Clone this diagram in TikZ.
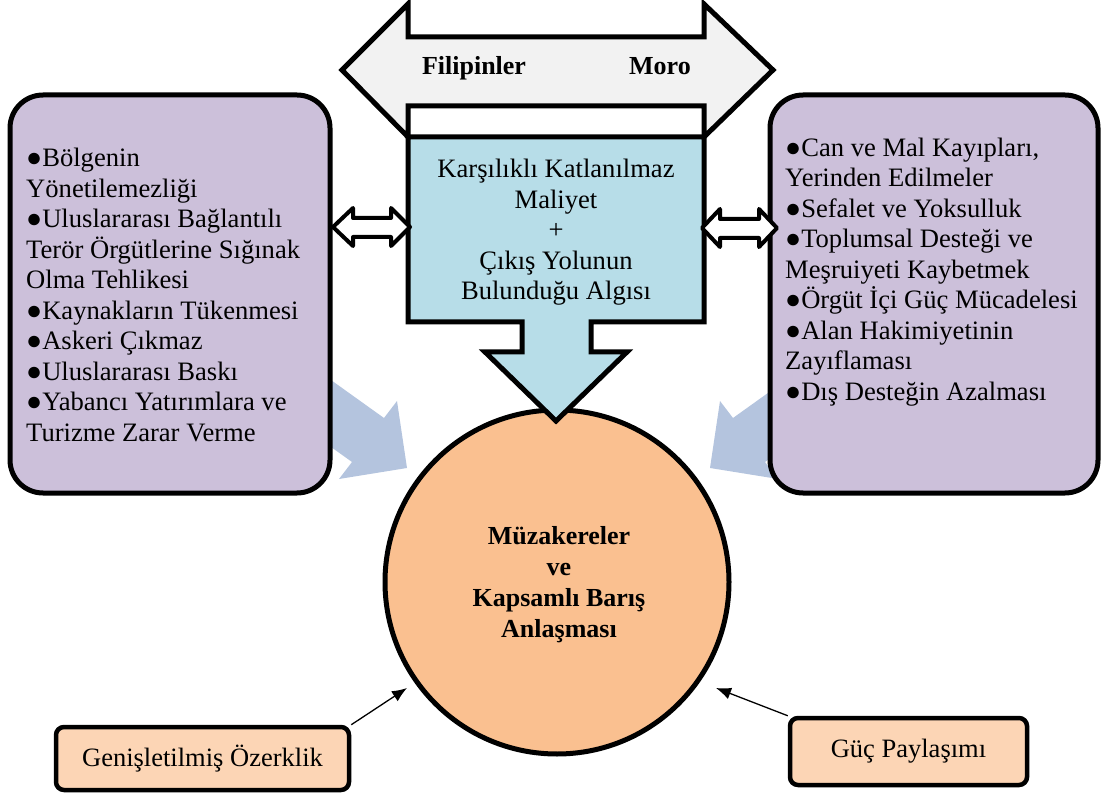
\documentclass[tikz,border=0pt]{standalone}
\usepackage{fontspec}
\setmainfont{Liberation Serif}
\usetikzlibrary{arrows.meta}
\definecolor{greyfill}{HTML}{F2F2F2}
\definecolor{bluefill}{HTML}{B7DDE8}
\definecolor{lavender}{HTML}{CCC0DA}
\definecolor{fadeblue}{HTML}{B4C4DE}
\definecolor{circlefill}{HTML}{FAC090}
\definecolor{peach}{HTML}{FCD5B5}
\begin{document}
\begin{tikzpicture}[x=1pt,y=-1pt,
  shapeline/.style={draw=black, line width=5pt, line join=miter},
  smallarrow/.style={draw=black, fill=white, line width=4pt, line join=round},
  fadearrow/.style={fill=fadeblue, draw=none},
  sidebox/.style={draw=black, line width=5pt, rounded corners=33pt, fill=lavender,
    minimum width=320pt, minimum height=398pt, inner sep=0pt},
  peachbox/.style={draw=black, line width=4.5pt, rounded corners=8pt, fill=peach,
    inner sep=0pt, font=\fontsize{26.5}{30}\selectfont},
  bodytext/.style={font=\fontsize{26.6}{30.5}\selectfont, align=left, inner sep=0pt},
  boldtext/.style={font=\fontsize{26}{31}\selectfont\bfseries, align=center, inner sep=0pt},
  conn/.style={draw=black, line width=1.3pt, -{Latex[length=15pt,width=12pt]}}
]
\useasboundingbox (0,0) rectangle (1101,794);

% faded arrows
\fill[fadearrow] (303,360) -- (384,418) -- (397,401) -- (407,468) -- (339,479) -- (352,462) -- (271,404) -- cycle;
\fill[fadearrow] (814,360) -- (733,418) -- (720,401) -- (710,468) -- (778,479) -- (765,462) -- (846,404) -- cycle;

% side boxes
\node[sidebox] (lbox) at (170,294) {};
\node[sidebox, minimum width=328pt] (rbox) at (934,294) {};

% circle
\node[circle, draw=black, line width=5pt, fill=circlefill, minimum size=344pt, inner sep=0pt] (circ) at (557,582) {};

% top double arrow
\draw[shapeline, fill=greyfill] (342,70) -- (408,4) -- (408,37) -- (704,37) -- (704,4) -- (773,70)
  -- (704,137) -- (704,106) -- (408,106) -- (408,137) -- cycle;

% blue box with down arrow
\draw[shapeline, fill=bluefill] (408,137) -- (704,137) -- (704,322) -- (591,322) -- (591,352)
  -- (627,352) -- (556,421) -- (485,352) -- (522,352) -- (522,322) -- (408,322) -- cycle;

% small double arrows
\draw[smallarrow] (333,227) -- (353,208) -- (353,218) -- (391,218) -- (391,208) -- (410,227)
  -- (391,246) -- (391,237) -- (353,237) -- (353,246) -- cycle;
\draw[smallarrow] (702,228) -- (720,209) -- (720,219) -- (759,219) -- (759,209) -- (777,228)
  -- (759,247) -- (759,238) -- (720,238) -- (720,247) -- cycle;

% bottom boxes
\node[peachbox, minimum width=293pt, minimum height=63pt] (gbox) at (202.5,758.5) {Genişletilmiş Özerklik};
\node[peachbox, minimum width=237pt, minimum height=67pt] (pbox) at (908.5,751.5) {Güç Paylaşımı};

% connectors
\coordinate (gtip) at (407,688);
\coordinate (ptip) at (716,688);
\draw[conn] (gbox.north east) -- (gtip);
\draw[conn] (pbox.north west) -- (ptip);

% texts
\node[boldtext, anchor=base] (fil) at (474,75) {Filipinler};
\node[boldtext, anchor=base] (moro) at (660,75) {Moro};

\node[bodytext, anchor=base west] (ltext) at (26,441) {●Bölgenin\\Yönetilemezliği\\●Uluslararası Bağlantılı\\Terör Örgütlerine Sığınak\\Olma Tehlikesi\\●Kaynakların Tükenmesi\\●Askeri Çıkmaz\\●Uluslararası Baskı\\●Yabancı Yatırımlara ve\\Turizme Zarar Verme};

\node[bodytext, anchor=base west] (rtext) at (785,400) {●Can ve Mal Kayıpları,\\Yerinden Edilmeler\\●Sefalet ve Yoksulluk\\●Toplumsal Desteği ve\\Meşruiyeti Kaybetmek\\●Örgüt İçi Güç Mücadelesi\\●Alan Hakimiyetinin\\Zayıflaması\\●Dış Desteğin Azalması};

\node[bodytext, align=center, anchor=base] (ctext) at (556,300) {Karşılıklı Katlanılmaz\\Maliyet\\+\\Çıkış Yolunun\\Bulunduğu Algısı};

\node[boldtext, anchor=base] (circtext) at (559,637) {Müzakereler\\ve\\Kapsamlı Barış\\Anlaşması};
\end{tikzpicture}
\end{document}
